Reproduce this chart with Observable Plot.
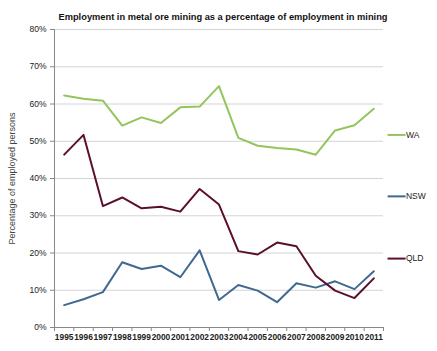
<!DOCTYPE html>
<html>
<head>
<meta charset="utf-8">
<script src="https://cdn.jsdelivr.net/npm/d3@7"></script>
<script src="https://cdn.jsdelivr.net/npm/@observablehq/plot@0.6"></script>
<style>
  html, body { margin: 0; padding: 0; background: #fff; }
  #chart svg { display: block; }
</style>
</head>
<body>
<div id="chart"></div>
<script>
const years = [1995,1996,1997,1998,1999,2000,2001,2002,2003,2004,2005,2006,2007,2008,2009,2010,2011];
const wa  = [62.3,61.4,60.9,54.2,56.4,54.9,59.1,59.3,64.8,50.9,48.8,48.2,47.8,46.4,52.9,54.3,58.7];
const nsw = [6.0,7.6,9.5,17.5,15.7,16.6,13.5,20.7,7.4,11.4,9.9,6.8,11.9,10.7,12.4,10.3,15.1];
const qld = [46.4,51.7,32.6,34.9,32.0,32.4,31.1,37.2,33.0,20.5,19.6,22.8,21.8,13.9,9.9,7.9,13.2];
const seriesNames = ["WA","NSW","QLD"];
const seriesColors = ["#93C55C","#3F6990","#5A0F2E"];
const legendY = [51.7, 35.2, 18.5];
const yTicks = [0,10,20,30,40,50,60,70,80];
const title = "Employment in metal ore mining as a percentage of employment in mining";
const yLabel = "Percentage of employed persons";

const seriesValues = [wa, nsw, qld];
const rows = [];
seriesNames.forEach((s, i) => years.forEach((yr, j) => rows.push({series: s, year: yr, value: seriesValues[i][j]})));
const legendRows = seriesNames.map((s, i) => ({series: s, y: legendY[i], color: seriesColors[i]}));
const boundaries = years.map(y => y - 0.5).concat([years[years.length - 1] + 0.5]);
const lastYear = years[years.length - 1];

const font = "'Liberation Sans', Arial, sans-serif";

const plot = Plot.plot({
  width: 437,
  height: 351,
  marginLeft: 54,
  marginRight: 54,
  marginTop: 29,
  marginBottom: 24,
  style: {fontFamily: font, background: "#fff", overflow: "visible"},
  x: {domain: [years[0] - 0.5, lastYear + 0.5], axis: null, label: null},
  y: {domain: [0, 80], axis: null, label: null},
  color: {domain: seriesNames, range: seriesColors},
  marks: [
    Plot.ruleY(yTicks.filter(d => d > 0), {stroke: "#d4d4d4", strokeWidth: 1}),
    // y axis
    Plot.axisY({ticks: yTicks, tickFormat: d => d + "%", tickSize: 4, tickPadding: 4, stroke: "#888",
      fontSize: 8.5, fill: "#222", label: null}),
    Plot.ruleX([years[0] - 0.5], {stroke: "#888"}),
    Plot.ruleY([0], {stroke: "#888"}),
    // x axis ticks at band boundaries
    Plot.axisX({ticks: boundaries, tickSize: 4, tickFormat: () => "", stroke: "#888", label: null}),
    Plot.axisX({ticks: years, tickSize: 0, tickPadding: 7, tickFormat: d => String(d), fontSize: 8.4,
      fontWeight: "bold", fill: "#222", label: null}),
    // y label
    Plot.text([yLabel], {frameAnchor: "left", textAnchor: "middle", rotate: -90, dx: -42, text: d => d, fontSize: 9, fill: "#444"}),
    // title
    Plot.text([title], {frameAnchor: "top", dx: 4, dy: -16, text: d => d, fontSize: 9.3, fontWeight: "bold", fill: "#111"}),
    // series lines
    Plot.line(rows, {x: "year", y: "value", z: "series", stroke: "series", strokeWidth: 2}),
    // legend
    Plot.link(legendRows, {x1: lastYear + 0.71, x2: lastYear + 1.64, y1: "y", y2: "y", stroke: "color", strokeWidth: 2}),
    Plot.text(legendRows, {x: lastYear + 1.66, y: "y", text: "series", textAnchor: "start", fontSize: 8.5, fill: "#222"})
  ]
});
document.getElementById("chart").appendChild(plot);
</script>
</body>
</html>
